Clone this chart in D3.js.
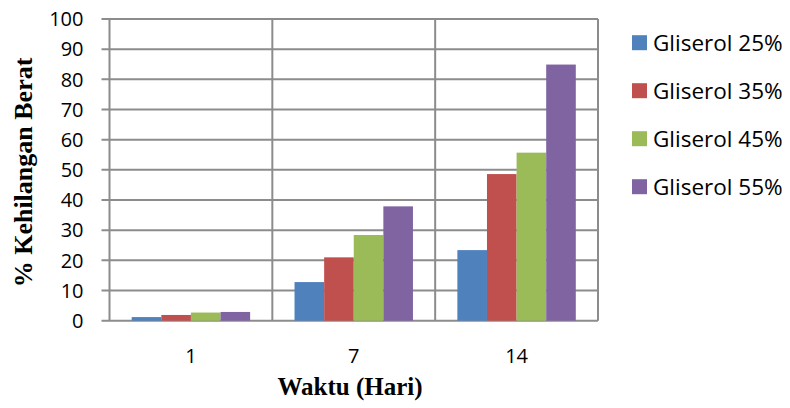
<!DOCTYPE html>
<html><head><meta charset="utf-8">
<script src="https://cdn.jsdelivr.net/npm/d3@7"></script>
<style>body{margin:0;background:#fff}</style>
</head><body>
<svg id="c" width="790" height="408"></svg>
<script>
const categories = ["1", "7", "14"];
const seriesNames = ["Gliserol 25%", "Gliserol 35%", "Gliserol 45%", "Gliserol 55%"];
const g25 = [1.2, 12.8, 23.4];
const g35 = [1.9, 21.0, 48.6];
const g45 = [2.7, 28.4, 55.7];
const g55 = [2.9, 37.9, 84.9];
const colors = ["#4f81bd", "#c0504d", "#9bbb59", "#8064a2"];
const yTicks = [0,10,20,30,40,50,60,70,80,90,100];

const series = [g25, g35, g45, g55];
const svg = d3.select("#c");
const L = 109.5, R = 598, T = 19, B = 320.7;
const x = d3.scaleBand().domain(categories).range([L, R]).paddingInner(0).paddingOuter(0);
const xs = d3.scaleBand().domain(seriesNames).range([0, x.bandwidth()]).paddingOuter(0.75).paddingInner(0);
const y = d3.scaleLinear().domain([0, 100]).range([B, T]);
const gridC = "#8c8c8c";

// horizontal gridlines
svg.append("g").selectAll("line").data(yTicks).join("line")
  .attr("x1", L - 8).attr("x2", R).attr("y1", d => y(d)).attr("y2", d => y(d))
  .attr("stroke", gridC).attr("stroke-width", 2);
// vertical gridlines at category boundaries
const bounds = categories.map(c => x(c)).concat([R]);
svg.append("g").selectAll("line").data(bounds).join("line")
  .attr("x1", d => d).attr("x2", d => d).attr("y1", T).attr("y2", B)
  .attr("stroke", gridC).attr("stroke-width", 2);

// bars
series.forEach((vals, si) => {
  svg.append("g").selectAll("rect").data(vals).join("rect")
    .attr("x", (d, i) => x(categories[i]) + xs(seriesNames[si]))
    .attr("width", xs.bandwidth())
    .attr("y", d => y(d))
    .attr("height", d => B - y(d))
    .attr("fill", colors[si]);
});

// y tick labels
svg.append("g").selectAll("text").data(yTicks).join("text")
  .attr("x", 83.5).attr("y", d => y(d)).attr("dy", "0.36em")
  .attr("text-anchor", "end").attr("font-family", "Open Sans, sans-serif").attr("font-size", 20)
  .attr("fill", "#000").text(d => d);
// x tick labels
svg.append("g").selectAll("text").data(categories).join("text")
  .attr("x", d => x(d) + x.bandwidth() / 2).attr("y", 356).attr("dy", "0.36em")
  .attr("text-anchor", "middle").attr("font-family", "Open Sans, sans-serif").attr("font-size", 20)
  .text(d => d);

// axis titles
svg.append("text").attr("x", 350).attr("y", 395).attr("text-anchor", "middle")
  .attr("font-family", "Liberation Serif, serif").attr("font-weight", "bold").attr("font-size", 25)
  .text("Waktu (Hari)");
svg.append("text").attr("transform", "translate(32,172.5) rotate(-90)").attr("text-anchor", "middle")
  .attr("font-family", "Liberation Serif, serif").attr("font-weight", "bold").attr("font-size", 26)
  .text("% Kehilangan Berat");

// legend
const lg = svg.append("g");
seriesNames.forEach((n, i) => {
  const cy = 42.7 + i * 48;
  lg.append("rect").attr("x", 632).attr("y", cy - 7.5).attr("width", 15).attr("height", 15).attr("fill", colors[i]);
  lg.append("text").attr("x", 653).attr("y", cy).attr("dy", "0.36em")
    .attr("font-family", "Open Sans, sans-serif").attr("font-size", 22.5).text(n);
});
</script>
</body></html>
